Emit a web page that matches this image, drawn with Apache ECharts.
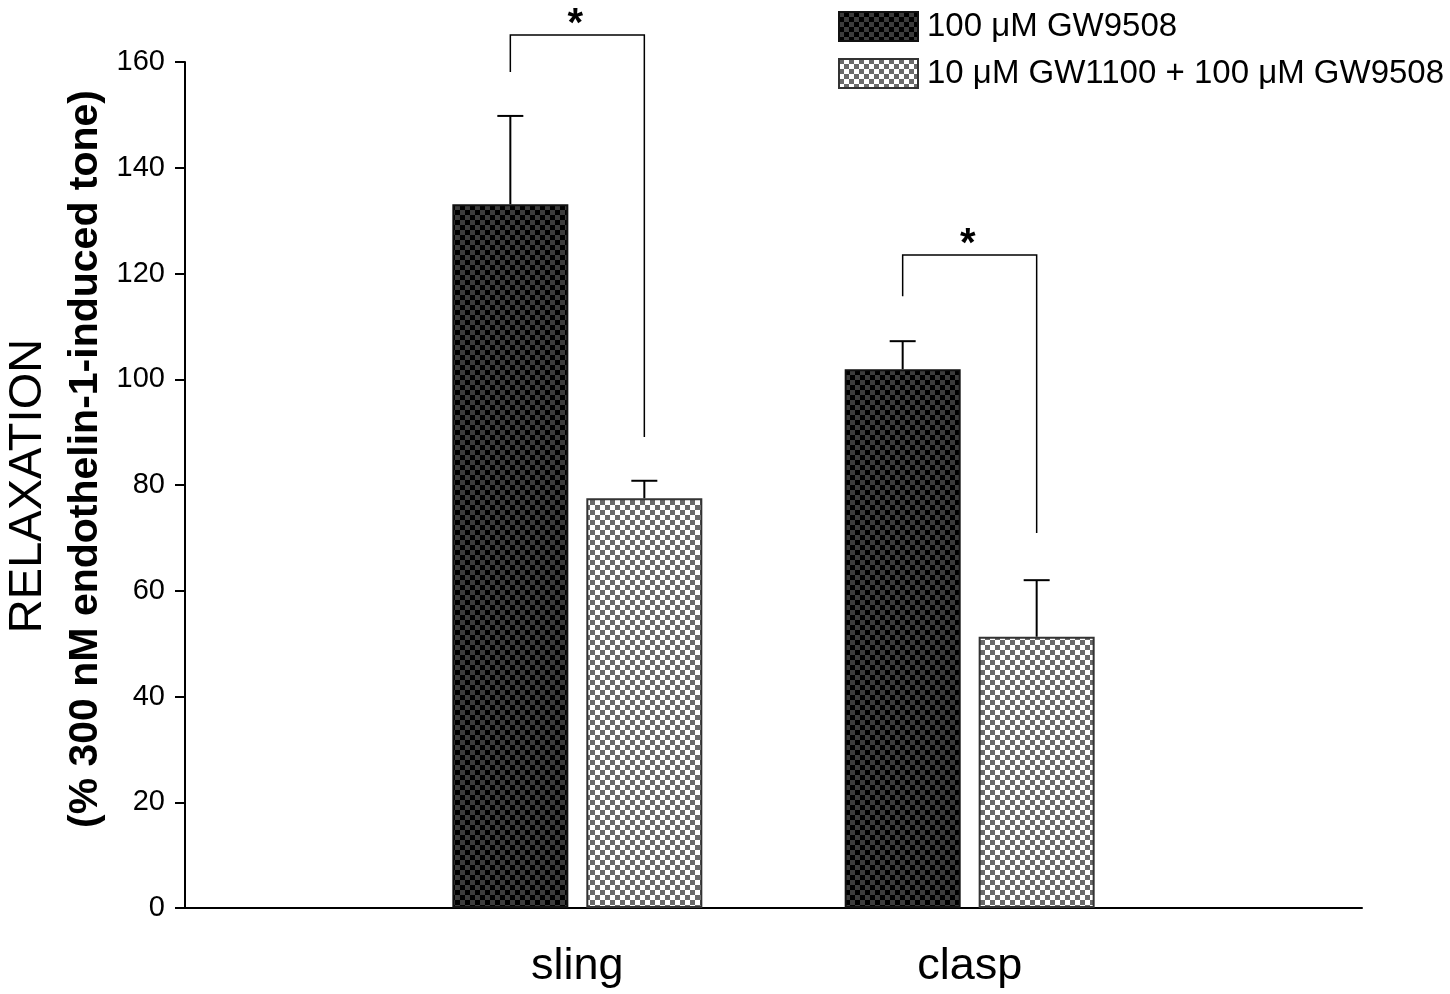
<!DOCTYPE html>
<html>
<head>
<meta charset="utf-8">
<script src="https://cdn.jsdelivr.net/npm/echarts@6/dist/echarts.min.js"></script>
<style>
  html, body { margin: 0; padding: 0; background: #fff; }
  #chart { width: 1450px; height: 994px; }
</style>
</head>
<body>
<div id="chart"></div>
<script>
// ---------- data ----------
const categories = ['', 'sling', 'clasp', ''];
const seriesNames = ['100 \u03bcM GW9508', '10 \u03bcM GW1100 + 100 \u03bcM GW9508'];
const gw9508Mean = ['-', 133.1, 101.9, '-'];
const gw9508ErrTop = ['-', 149.8, 107.2, '-'];
const comboMean = ['-', 77.5, 51.3, '-'];
const comboErrTop = ['-', 80.8, 62.0, '-'];
// significance brackets: [category, left end, top, right end]
const brackets = [
  [1, 158.1, 165.1, 89.1],
  [2, 115.7, 123.5, 70.9]
];

// ---------- look ----------
const BAR_W = 116;
const BAR_GAP = 18;
const HALF = (BAR_W + BAR_GAP) / 2; // px from category centre to each bar centre
const FONT = '"Liberation Sans", Arial, sans-serif';

function checker(c1, c2, cell) {
  const cv = document.createElement('canvas');
  cv.width = cell * 2;
  cv.height = cell * 2;
  const ctx = cv.getContext('2d');
  ctx.fillStyle = c1;
  ctx.fillRect(0, 0, cell * 2, cell * 2);
  ctx.fillStyle = c2;
  ctx.fillRect(0, 0, cell, cell);
  ctx.fillRect(cell, cell, cell, cell);
  return { image: cv, repeat: 'repeat' };
}
const darkFill = checker('#000000', '#3c3c3c', 5);
const lightFill = checker('#ffffff', '#6a6a6a', 5);

const errData = (mean, top) => mean.map((v, i) => (v === '-' ? null : [i, v, top[i]])).filter(Boolean);

function errorBar(offset) {
  return function (params, api) {
    const base = api.coord([api.value(0), api.value(1)]);
    const top = api.coord([api.value(0), api.value(2)]);
    const x = base[0] + offset;
    return {
      type: 'group',
      children: [
        { type: 'line', shape: { x1: x, y1: base[1], x2: x, y2: top[1] }, style: { stroke: '#000', lineWidth: 2 } },
        { type: 'line', shape: { x1: x - 13, y1: top[1], x2: x + 13, y2: top[1] }, style: { stroke: '#000', lineWidth: 2 } }
      ]
    };
  };
}

function bracketItem(params, api) {
  const cat = api.value(0);
  const pl = api.coord([cat, api.value(1)]);
  const pt = api.coord([cat, api.value(2)]);
  const pr = api.coord([cat, api.value(3)]);
  const xl = pl[0] - HALF;
  const xr = pl[0] + HALF;
  return {
    type: 'group',
    children: [
      {
        type: 'polyline',
        shape: { points: [[xl, pl[1]], [xl, pt[1]], [xr, pt[1]], [xr, pr[1]]] },
        style: { stroke: '#000', lineWidth: 1.5, fill: null }
      },
      {
        type: 'text',
        x: pt[0] - 2,
        y: pt[1] + 10,
        style: { text: '*', font: 'bold 40px ' + FONT, fill: '#000', textAlign: 'center', textVerticalAlign: 'bottom' }
      }
    ]
  };
}

const chart = echarts.init(document.getElementById('chart'), null, { renderer: 'canvas' });

chart.setOption({
  backgroundColor: '#fff',
  animation: false,
  textStyle: { fontFamily: FONT },
  grid: { left: 185, right: 88, top: 62, bottom: 86 },
  legend: {
    data: seriesNames,
    orient: 'vertical',
    left: 833,
    top: 5,
    icon: 'rect',
    itemWidth: 79,
    itemHeight: 29,
    itemGap: 14,
    textStyle: { fontSize: 33, color: '#000', fontFamily: FONT, padding: [0, 0, 0, 4] },
    selectedMode: false
  },
  graphic: [
    {
      type: 'text',
      x: 28,
      y: 486,
      rotation: Math.PI / 2,
      style: { text: 'RELAXATION', font: '47px ' + FONT, fill: '#000', textAlign: 'center', textVerticalAlign: 'middle' }
    },
    {
      type: 'text',
      x: 86,
      y: 459,
      rotation: Math.PI / 2,
      style: { text: '(% 300 nM endothelin-1-induced tone)', font: 'bold 41px ' + FONT, fill: '#000', textAlign: 'center', textVerticalAlign: 'middle' }
    }
  ],
  xAxis: {
    type: 'category',
    data: categories,
    boundaryGap: false,
    axisLine: { lineStyle: { color: '#000', width: 2 } },
    axisTick: { show: false },
    axisLabel: { fontSize: 45, color: '#000', margin: 36, fontFamily: FONT },
    splitLine: { show: false }
  },
  yAxis: {
    type: 'value',
    min: 0,
    max: 160,
    interval: 20,
    axisLine: { show: true, lineStyle: { color: '#000', width: 2 } },
    axisTick: { show: true, inside: false, length: 10, lineStyle: { color: '#000', width: 2 } },
    axisLabel: { fontSize: 29, color: '#000', margin: 20, fontFamily: FONT },
    splitLine: { show: false }
  },
  series: [
    {
      name: seriesNames[0],
      type: 'bar',
      data: gw9508Mean,
      barWidth: BAR_W,
      barGap: (BAR_GAP / BAR_W * 100).toFixed(1) + '%',
      itemStyle: { color: darkFill, borderColor: '#111', borderWidth: 2 },
      z: 2
    },
    {
      name: seriesNames[1],
      type: 'bar',
      data: comboMean,
      barWidth: BAR_W,
      itemStyle: { color: lightFill, borderColor: '#333', borderWidth: 2 },
      z: 2
    },
    {
      type: 'custom',
      data: errData(gw9508Mean, gw9508ErrTop),
      renderItem: errorBar(-HALF),
      z: 3,
      silent: true
    },
    {
      type: 'custom',
      data: errData(comboMean, comboErrTop),
      renderItem: errorBar(HALF),
      z: 3,
      silent: true
    },
    {
      type: 'custom',
      data: brackets,
      renderItem: bracketItem,
      clip: false,
      z: 3,
      silent: true
    }
  ]
});
</script>
</body>
</html>
